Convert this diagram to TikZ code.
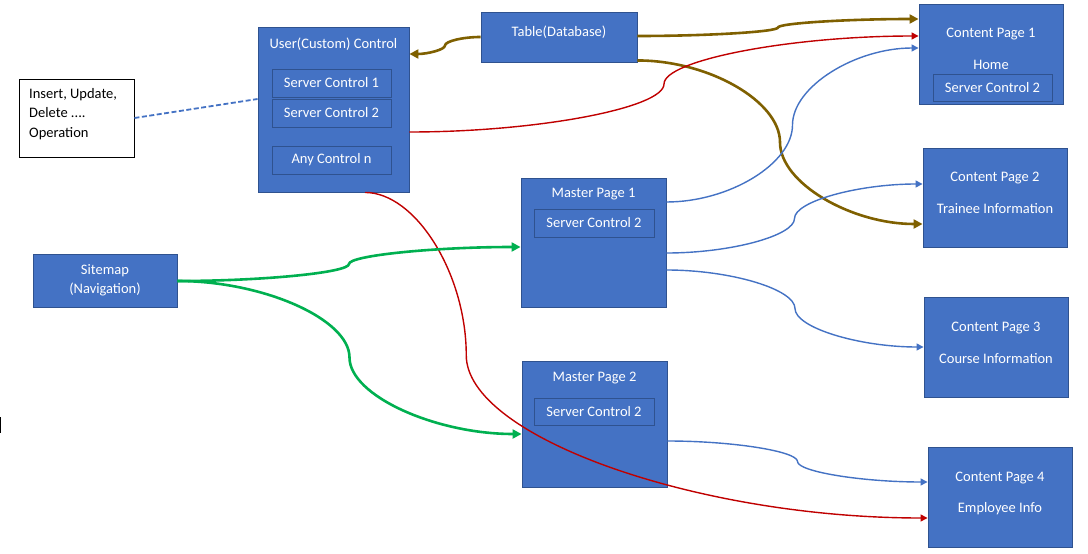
\documentclass[tikz,border=0pt]{standalone}
\usepackage{fontspec}
\setmainfont{Carlito}
\usetikzlibrary{arrows.meta,calc}
\definecolor{boxblue}{HTML}{4472C4}
\definecolor{boxedge}{HTML}{2F528F}
\definecolor{brownc}{HTML}{7F6000}
\definecolor{redc}{HTML}{C00000}
\definecolor{greenc}{HTML}{00B050}
\newcommand\curveconn[4][]{%
  \draw[#1] let \p1=#2, \p2=#3, \n1={\x1+#4*(\x2-\x1)}, \n2={(\y1+\y2)/2} in
   (\p1) .. controls ({(\x1+\n1)/2},\y1) and (\n1,{\y1+(\y2-\y1)/4}) .. (\n1,\n2)
   .. controls (\n1,{\y1+3*(\y2-\y1)/4}) and ({(\n1+\x2)/2},\y2) .. (\p2);}
\tikzset{
  bluebox/.style={draw=boxedge, line width=0.9pt, fill=boxblue, inner sep=0pt},
  innerbox/.style={draw=boxedge, line width=0.8pt, fill=boxblue, inner sep=0pt,
    text=white, font=\fontsize{14.5}{17}\selectfont},
  wtext/.style={text=white, inner sep=0pt, yshift=-1.5pt, font=\fontsize{14.5}{17}\selectfont},
  brownline/.style={draw=brownc, line width=2.6pt, -{Triangle[length=9pt,width=9pt]}},
  redline/.style={draw=redc, line width=1.4pt, -{Triangle[length=7pt,width=7pt]}},
  blueline/.style={draw=boxblue, line width=1.4pt, -{Triangle[length=7pt,width=7pt]}},
  greenline/.style={draw=greenc, line width=2.6pt, -{Triangle[length=9pt,width=9pt]}},
}
\begin{document}
\begin{tikzpicture}[x=1pt,y=1pt]
\useasboundingbox (0,0) rectangle (1088,-554);
\fill[white] (0,0) rectangle (1088,-554);
% boxes
\node[bluebox, minimum width=151, minimum height=165] (uc) at (333.5,-109.5) {};
\node[wtext] (uct) at (333.5,-43) {User(Custom) Control};
\node[innerbox, minimum width=119, minimum height=28] (sc1) at (331.5,-83) {Server Control 1};
\node[innerbox, minimum width=119, minimum height=28] (sc2) at (331.5,-113) {Server Control 2};
\node[innerbox, minimum width=119, minimum height=28] (anyc) at (331.5,-160) {Any Control n};
\node[bluebox, minimum width=156, minimum height=50] (tab) at (559,-37) {};
\node[wtext] (tabt) at (559,-31) {Table(Database)};
\node[draw=black, line width=0.9pt, fill=white, minimum width=115, minimum height=78, inner sep=0pt] (ins) at (76.5,-118) {};
\node[anchor=west, align=left, inner sep=0pt, font=\fontsize{14.5}{19.5}\selectfont] (inst) at (29,-114) {Insert, Update,\\Delete ....\\Operation};
\node[bluebox, minimum width=144, minimum height=53] (sm) at (105,-280.5) {};
\node[wtext, align=center, font=\fontsize{14.5}{19}\selectfont] (smt) at (105,-278.5) {Sitemap\\(Navigation)};
\node[bluebox, minimum width=145, minimum height=129] (mp1) at (593.5,-242.5) {};
\node[wtext] (mp1t) at (593.5,-193) {Master Page 1};
\node[innerbox, minimum width=120, minimum height=28] (mp1s) at (594,-223) {Server Control 2};
\node[bluebox, minimum width=145, minimum height=126] (mp2) at (594.5,-424) {};
\node[wtext] (mp2t) at (594.5,-377) {Master Page 2};
\node[innerbox, minimum width=120, minimum height=27] (mp2s) at (594,-411.5) {Server Control 2};
\node[bluebox, minimum width=144, minimum height=100] (cp1) at (991,-54) {};
\node[wtext] (cp1a) at (991,-33) {Content Page 1};
\node[wtext] (cp1b) at (991,-63) {Home};
\node[innerbox, minimum width=119, minimum height=27] (cp1s) at (992.5,-87.5) {Server Control 2};
\node[bluebox, minimum width=144, minimum height=99] (cp2) at (995,-197.5) {};
\node[wtext] (cp2a) at (995,-177) {Content Page 2};
\node[wtext] (cp2b) at (995,-207) {Trainee Information};
\node[bluebox, minimum width=144, minimum height=100] (cp3) at (996,-347) {};
\node[wtext] (cp3a) at (996,-327) {Content Page 3};
\node[wtext] (cp3b) at (996,-357) {Course Information};
\node[bluebox, minimum width=144, minimum height=100] (cp4) at (1000,-497) {};
\node[wtext] (cp4a) at (1000,-477) {Content Page 4};
\node[wtext] (cp4b) at (1000,-507) {Employee Info};
% stray mark at left edge
\coordinate (m1) at (0.8,-417);
\coordinate (m2) at (0.8,-433);
\draw[black, line width=1.4pt] (m1) -- (m2);
% connectors
\draw[boxblue, line width=1.8pt, dash pattern=on 5pt off 2.5pt] (ins.east) -- ([yshift=10.5]uc.west);
\curveconn[brownline]{(tab.west)}{([yshift=55.5]uc.east)}{0.5}
\curveconn[brownline]{([yshift=1]tab.east)}{([yshift=35]cp1.west)}{0.5}
\curveconn[brownline]{([yshift=2]tab.south east)}{([yshift=-26.5]cp2.west)}{0.5}
\curveconn[redline]{([yshift=-22.5]uc.east)}{([yshift=18]cp1.west)}{0.5}
\curveconn[redline]{([xshift=31.5]uc.south)}{([yshift=-21]cp4.west)}{0.18}
\curveconn[blueline]{([yshift=40.5]mp1.east)}{([yshift=6]cp1.west)}{0.5}
\curveconn[blueline]{([yshift=-10.5]mp1.east)}{([yshift=13.5]cp2.west)}{0.5}
\curveconn[blueline]{([yshift=-27.5]mp1.east)}{(cp3.west)}{0.5}
\curveconn[blueline]{([yshift=-17]mp2.east)}{([yshift=15]cp4.west)}{0.5}
\curveconn[greenline]{([yshift=-0.5]sm.east)}{([yshift=-4.5]mp1.west)}{0.5}
\curveconn[greenline]{([yshift=-0.5]sm.east)}{([yshift=-10]mp2.west)}{0.5}
\end{tikzpicture}
\end{document}
